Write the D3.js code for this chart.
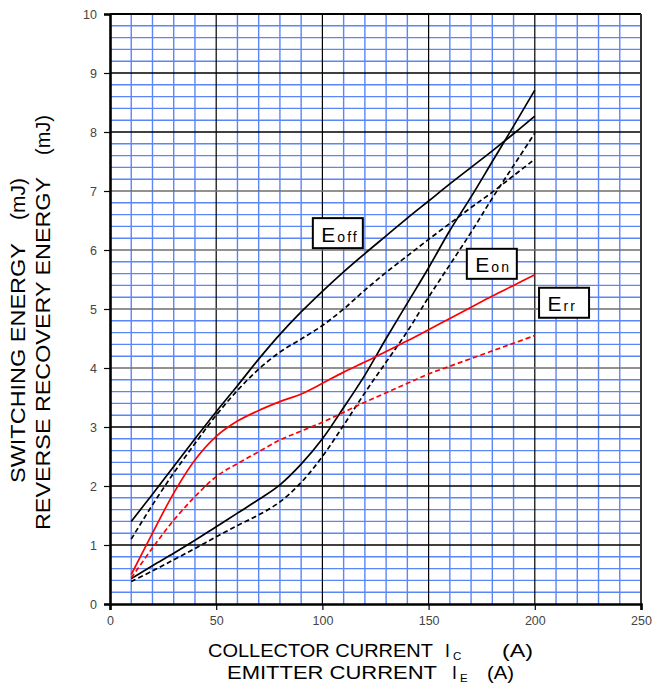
<!DOCTYPE html>
<html><head><meta charset="utf-8">
<script src="https://cdn.jsdelivr.net/npm/d3@7"></script>
<style>body{margin:0;background:#fff}svg{display:block}</style>
</head><body>
<svg id="c" width="654" height="693"></svg>
<script>
const xTicks = [0, 50, 100, 150, 200, 250];
const yTicks = [0,1,2,3,4,5,6,7,8,9,10];
const current = [10,20,30,40,50,60,70,80,90,100,110,120,130,140,150,160,170,180,190,200];
const eoffSolid = [1.4,1.86,2.33,2.8,3.26,3.7,4.15,4.57,4.95,5.3,5.63,5.94,6.24,6.54,6.83,7.12,7.4,7.68,7.97,8.27];
const eoffDash  = [1.1,1.68,2.22,2.72,3.2,3.62,3.98,4.27,4.49,4.72,5.0,5.32,5.62,5.9,6.18,6.45,6.72,6.98,7.26,7.54];
const eonSolid  = [0.43,0.65,0.86,1.08,1.31,1.54,1.77,2.02,2.37,2.8,3.33,3.88,4.5,5.1,5.7,6.33,6.9,7.5,8.1,8.71];
const eonDash   = [0.38,0.56,0.75,0.94,1.14,1.33,1.51,1.73,2.06,2.5,3.03,3.58,4.1,4.62,5.2,5.75,6.3,6.88,7.43,7.98];
const errSolid  = [0.5,1.2,1.88,2.44,2.84,3.1,3.28,3.43,3.56,3.74,3.93,4.1,4.28,4.46,4.65,4.84,5.03,5.22,5.4,5.58];
const errDash   = [0.44,0.95,1.42,1.82,2.16,2.38,2.58,2.78,2.93,3.08,3.25,3.42,3.58,3.74,3.9,4.03,4.16,4.29,4.42,4.55];
const labels = [
  {main:"E", sub:"off", x:95.5, y:6.54},
  {main:"E", sub:"on", x:168, y:6.02},
  {main:"E", sub:"rr", x:202, y:5.36}
];

const svg = d3.select("#c");
const L=110, R=641, T=14, B=604;
const x = d3.scaleLinear().domain([0,250]).range([L,R]);
const y = d3.scaleLinear().domain([0,10]).range([B,T]);
const g = svg.append("g");
const ff = "Liberation Sans, Arial, sans-serif";

// minor grid
const minorX = d3.range(1,25).filter(i=>i%5!==0).map(i=>i*10);
const minorY = d3.range(1,50).filter(i=>i%5!==0).map(i=>i/5);
g.selectAll("line.mx").data(minorX).join("line").attr("class","mx")
 .attr("x1",d=>x(d)).attr("x2",d=>x(d)).attr("y1",T).attr("y2",B)
 .attr("stroke","#5a86f7").attr("stroke-width",1.4);
g.selectAll("line.my").data(minorY).join("line").attr("class","my")
 .attr("x1",L).attr("x2",R).attr("y1",d=>y(d)).attr("y2",d=>y(d))
 .attr("stroke","#5a86f7").attr("stroke-width",1.4);
// major grid
g.selectAll("line.Mx").data(xTicks.filter(v=>v>0&&v<250)).join("line").attr("class","Mx")
 .attr("x1",d=>x(d)).attr("x2",d=>x(d)).attr("y1",T).attr("y2",B)
 .attr("stroke","#000").attr("stroke-width",1.2);
g.selectAll("line.My").data(yTicks.filter(v=>v>0&&v<10)).join("line").attr("class","My")
 .attr("x1",L).attr("x2",R).attr("y1",d=>y(d)).attr("y2",d=>y(d))
 .attr("stroke",d=>(d>=4&&d<=7)?"#6e6e6e":"#000").attr("stroke-width",1.3);

// frame
g.append("line").attr("x1",L).attr("x2",R).attr("y1",T).attr("y2",T).attr("stroke","#000").attr("stroke-width",2);
g.append("line").attr("x1",R).attr("x2",R).attr("y1",T).attr("y2",B).attr("stroke","#333").attr("stroke-width",2);

// axes
const ax = d3.axisBottom(x).tickValues(xTicks).tickSize(6).tickPadding(6);
const ay = d3.axisLeft(y).tickValues(yTicks).tickSize(6).tickPadding(7);
const gx = svg.append("g").attr("transform",`translate(0,${B})`).call(ax);
const gy = svg.append("g").attr("transform",`translate(${L},0)`).call(ay);
[gx,gy].forEach(a=>{
  a.select(".domain").attr("stroke","#000").attr("stroke-width",2.6);
  a.selectAll(".tick line").attr("stroke","#000").attr("stroke-width",1.2);
  a.selectAll(".tick text").attr("fill","#444").style("font-family",ff).style("font-size","12.5px");
});

// curves
const line = d3.line().x(d=>x(d[0])).y(d=>y(d[1])).curve(d3.curveCatmullRom.alpha(0.5));
const series = [
  {v:eoffSolid,c:"#000",dash:null},
  {v:eoffDash,c:"#000",dash:"5,3"},
  {v:eonSolid,c:"#000",dash:null},
  {v:eonDash,c:"#000",dash:"5,3"},
  {v:errSolid,c:"#f00",dash:null},
  {v:errDash,c:"#f00",dash:"5,3"}
];
svg.selectAll("path.curve").data(series).join("path").attr("class","curve")
 .attr("d",s=>line(current.map((c,i)=>[c,s.v[i]])))
 .attr("fill","none").attr("stroke",s=>s.c).attr("stroke-width",1.7)
 .attr("stroke-dasharray",s=>s.dash);

// labels
const lg = svg.selectAll("g.lab").data(labels).join("g").attr("class","lab")
 .attr("transform",d=>`translate(${x(d.x)},${y(d.y)})`);
lg.append("rect").attr("x",0).attr("y",0).attr("width",50).attr("height",30)
 .attr("fill","#fff").attr("stroke","#000").attr("stroke-width",2);
const tt = lg.append("text").attr("x",8.5).attr("y",23.5)
 .style("font-family",ff).attr("fill","#000");
tt.append("tspan").text(d=>d.main).style("font-size","21px");
tt.append("tspan").text(d=>d.sub).style("font-size","14px").attr("dx",2).style("letter-spacing","2px");

// axis titles (x)
function piece(px, py, txt, size, len){
  const t = svg.append("text").attr("x",px).attr("y",py)
    .style("font-family",ff).style("font-size",size+"px").attr("fill","#000").text(txt);
  if(len) t.attr("textLength",len).attr("lengthAdjust","spacingAndGlyphs");
  return t;
}
piece(208,657,"COLLECTOR CURRENT",17.5,225);
piece(445,657,"I",17.5);
piece(453,660,"C",11.5);
piece(502,657,"(A)",17.5,31);
piece(227,679,"EMITTER CURRENT",17.5,210);
piece(452,679,"I",17.5);
piece(460,682,"E",11.5);
piece(487,679,"(A)",17.5,27);

// axis titles (y)
function vpiece(bx, by, txt, size, len){
  svg.append("text").attr("transform",`translate(${bx},${by}) rotate(-90)`)
    .style("font-family",ff).style("font-size",size+"px").attr("fill","#000")
    .attr("textLength",len).attr("lengthAdjust","spacingAndGlyphs").text(txt);
}
vpiece(25,483,"SWITCHING ENERGY",20,240);
vpiece(25,220,"(mJ)",20,42);
vpiece(50,530,"REVERSE RECOVERY ENERGY",20,353);
vpiece(50,155,"(mJ)",20,40);
</script>
</body></html>
